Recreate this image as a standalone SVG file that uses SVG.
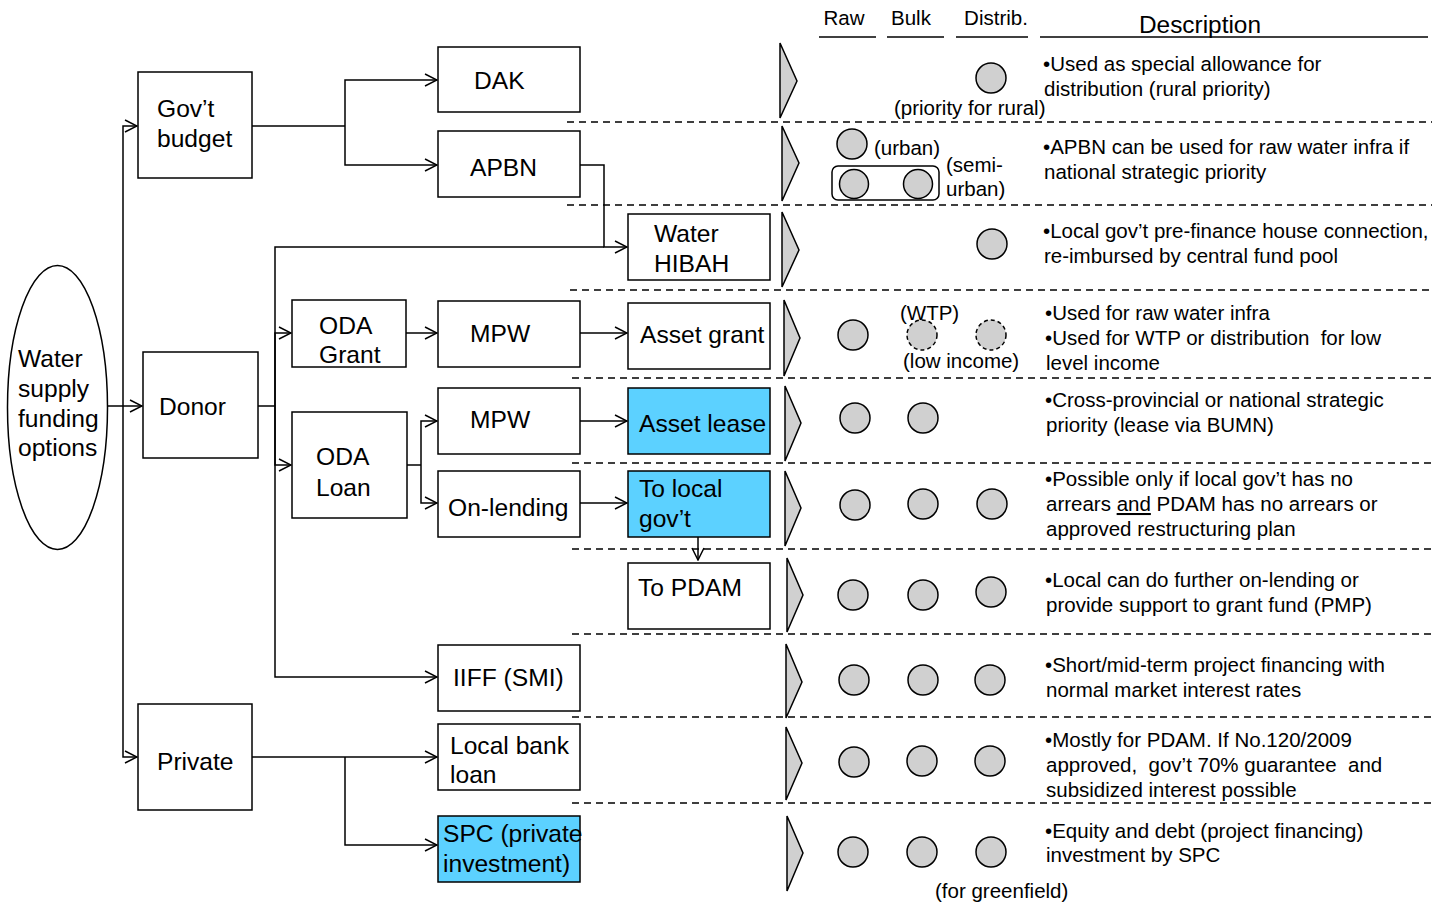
<svg xmlns="http://www.w3.org/2000/svg" width="1448" height="903" viewBox="0 0 1448 903">
  <style>
    text { font-family: "Liberation Sans", Arial, sans-serif; fill: #000; }
    .lbl { font-size: 24.6px; }
    .hdr { font-size: 20.5px; }
    .desc { font-size: 20.5px; white-space: pre; }
    .note { font-size: 20.5px; }
    .box { fill: #fff; stroke: #000; stroke-width: 1.5; }
    .blue { fill: #5CD1FF; stroke: #000; stroke-width: 1.5; }
    .conn { fill: none; stroke: #000; stroke-width: 1.5; }
    .sep { stroke: #000; stroke-width: 1.5; stroke-dasharray: 7 5; }
    .rule { stroke: #000; stroke-width: 1.5; }
    .chev { fill: #D0D0D0; stroke: #000; stroke-width: 1.5; }
    .dot { fill: #D0D0D0; stroke: #000; stroke-width: 1.5; }
    .dot-d { fill: #D0D0D0; stroke: #000; stroke-width: 1.5; stroke-dasharray: 4 3; }
  </style>
  <defs>
    <marker id="open" viewBox="0 0 14 14" refX="13" refY="7" markerWidth="14" markerHeight="14" markerUnits="userSpaceOnUse" orient="auto">
      <path d="M1,1 L13,7 L1,13" fill="none" stroke="#000" stroke-width="1.5"/>
    </marker>
  </defs>

  <!-- column headers -->
  <g id="header">
    <text class="hdr" x="844" y="25" text-anchor="middle">Raw</text>
    <text class="hdr" x="911" y="25" text-anchor="middle">Bulk</text>
    <text class="hdr" x="996" y="25" text-anchor="middle">Distrib.</text>
    <text x="1200" y="33" text-anchor="middle" style="font-size:24.4px">Description</text>
    <line class="rule" x1="819" y1="37" x2="876" y2="37"/>
    <line class="rule" x1="887" y1="37" x2="944" y2="37"/>
    <line class="rule" x1="956" y1="37" x2="1028" y2="37"/>
    <line class="rule" x1="1040" y1="37" x2="1428" y2="37"/>
  </g>

  <!-- row separators -->
  <g id="separators">
    <line class="sep" x1="567" y1="122" x2="1432" y2="122"/>
    <line class="sep" x1="567" y1="205" x2="1432" y2="205"/>
    <line class="sep" x1="570" y1="290" x2="1432" y2="290"/>
    <line class="sep" x1="572" y1="378" x2="1432" y2="378"/>
    <line class="sep" x1="572" y1="463" x2="1432" y2="463"/>
    <line class="sep" x1="572" y1="549" x2="1432" y2="549"/>
    <line class="sep" x1="572" y1="634" x2="1432" y2="634"/>
    <line class="sep" x1="572" y1="717" x2="1432" y2="717"/>
    <line class="sep" x1="572" y1="803" x2="1432" y2="803"/>
  </g>

  <!-- connectors -->
  <g id="connectors">
    <path class="conn" d="M123,406 V126 H137" marker-end="url(#open)"/>
    <path class="conn" d="M123,406 V757 H137" marker-end="url(#open)"/>
    <path class="conn" d="M108,406 H142" stroke-width="2.5" marker-end="url(#open)"/>

    <path class="conn" d="M252,126 H345"/>
    <path class="conn" d="M345,126 V80 H437" marker-end="url(#open)"/>
    <path class="conn" d="M345,126 V165 H437" marker-end="url(#open)"/>
    <path class="conn" d="M580,165 H604 V247 H627" marker-end="url(#open)"/>

    <path class="conn" d="M258,406 H275"/>
    <path class="conn" d="M275,406 V247 H604"/>
    <path class="conn" d="M275,406 V333 H291" marker-end="url(#open)"/>
    <path class="conn" d="M275,406 V465 H291" marker-end="url(#open)"/>
    <path class="conn" d="M275,406 V677 H437" marker-end="url(#open)"/>

    <path class="conn" d="M406,333 H437" marker-end="url(#open)"/>
    <path class="conn" d="M580,333 H627" marker-end="url(#open)"/>

    <path class="conn" d="M407,465 H421"/>
    <path class="conn" d="M421,465 V421 H437" marker-end="url(#open)"/>
    <path class="conn" d="M421,465 V503 H437" marker-end="url(#open)"/>
    <path class="conn" d="M580,421 H627" marker-end="url(#open)"/>
    <path class="conn" d="M580,503 H627" marker-end="url(#open)"/>
    <path class="conn" d="M698,537 V560" marker-end="url(#open)"/>

    <path class="conn" d="M252,757 H345"/>
    <path class="conn" d="M345,757 H437" marker-end="url(#open)"/>
    <path class="conn" d="M345,757 V845 H437" marker-end="url(#open)"/>
  </g>

  <!-- source -->
  <g id="node-source">
    <ellipse cx="57.5" cy="407.5" rx="50" ry="142" fill="#fff" stroke="#000" stroke-width="1.5"/>
    <text class="lbl" x="18" y="367">Water</text>
    <text class="lbl" x="18" y="397">supply</text>
    <text class="lbl" x="18" y="427">funding</text>
    <text class="lbl" x="18" y="456">options</text>
  </g>

  <!-- first level -->
  <g id="node-govbudget">
    <rect class="box" x="138" y="72" width="114" height="106"/>
    <text class="lbl" x="157" y="117">Gov’t</text>
    <text class="lbl" x="157" y="147">budget</text>
  </g>
  <g id="node-donor">
    <rect class="box" x="143" y="352" width="115" height="106"/>
    <text class="lbl" x="159" y="415">Donor</text>
  </g>
  <g id="node-private">
    <rect class="box" x="138" y="704" width="114" height="106"/>
    <text class="lbl" x="157" y="770">Private</text>
  </g>

  <!-- second level -->
  <g id="node-dak">
    <rect class="box" x="438" y="47" width="142" height="65"/>
    <text class="lbl" x="474" y="89">DAK</text>
  </g>
  <g id="node-apbn">
    <rect class="box" x="438" y="131" width="142" height="66"/>
    <text class="lbl" x="470" y="176">APBN</text>
  </g>
  <g id="node-odagrant">
    <rect class="box" x="292" y="300" width="114" height="67"/>
    <text class="lbl" x="319" y="334">ODA</text>
    <text class="lbl" x="319" y="363">Grant</text>
  </g>
  <g id="node-odaloan">
    <rect class="box" x="292" y="412" width="115" height="106"/>
    <text class="lbl" x="316" y="465">ODA</text>
    <text class="lbl" x="316" y="496">Loan</text>
  </g>
  <g id="node-mpw-grant">
    <rect class="box" x="438" y="301" width="142" height="66"/>
    <text class="lbl" x="470" y="342">MPW</text>
  </g>
  <g id="node-mpw-loan">
    <rect class="box" x="438" y="388" width="142" height="66"/>
    <text class="lbl" x="470" y="428">MPW</text>
  </g>
  <g id="node-onlending">
    <rect class="box" x="438" y="471" width="142" height="66"/>
    <text class="lbl" x="448" y="516">On-lending</text>
  </g>
  <g id="node-iiff">
    <rect class="box" x="438" y="645" width="142" height="66"/>
    <text class="lbl" x="453" y="686">IIFF (SMI)</text>
  </g>
  <g id="node-localbank">
    <rect class="box" x="438" y="724" width="142" height="66"/>
    <text class="lbl" x="450" y="754">Local bank</text>
    <text class="lbl" x="450" y="783">loan</text>
  </g>
  <g id="node-spc">
    <rect class="blue" x="438" y="816" width="142" height="66"/>
    <text class="lbl" x="443" y="842">SPC (private</text>
    <text class="lbl" x="443" y="872">investment)</text>
  </g>

  <!-- third level -->
  <g id="node-hibah">
    <rect class="box" x="628" y="214" width="142" height="66"/>
    <text class="lbl" x="654" y="242">Water</text>
    <text class="lbl" x="654" y="272">HIBAH</text>
  </g>
  <g id="node-assetgrant">
    <rect class="box" x="628" y="303" width="142" height="66"/>
    <text class="lbl" x="640" y="343">Asset grant</text>
  </g>
  <g id="node-assetlease">
    <rect class="blue" x="628" y="388" width="142" height="66"/>
    <text class="lbl" x="639" y="432">Asset lease</text>
  </g>
  <g id="node-localgov">
    <rect class="blue" x="628" y="471" width="142" height="66"/>
    <text class="lbl" x="639" y="497">To local</text>
    <text class="lbl" x="639" y="527">gov’t</text>
  </g>
  <g id="node-pdam">
    <rect class="box" x="628" y="563" width="142" height="66"/>
    <text class="lbl" x="638" y="596">To PDAM</text>
  </g>

  <!-- row chevrons -->
  <g id="chevrons">
    <polygon class="chev" points="780,43 797,81 780,118"/>
    <polygon class="chev" points="782,126 799,163 782,201"/>
    <polygon class="chev" points="782,212 799,250 782,287"/>
    <polygon class="chev" points="784,300 800,338 784,376"/>
    <polygon class="chev" points="785,386 801,423 785,461"/>
    <polygon class="chev" points="785,471 801,508 785,546"/>
    <polygon class="chev" points="787,558 803,595 787,632"/>
    <polygon class="chev" points="786,644 802,682 786,718"/>
    <polygon class="chev" points="786,727 802,763 786,800"/>
    <polygon class="chev" points="787,816 803,853 787,891"/>
  </g>

  <!-- applicability markers: raw / bulk / distribution -->
  <g id="markers">
    <circle class="dot" cx="991" cy="78" r="15"/>

    <circle class="dot" cx="852" cy="144" r="15"/>
    <rect x="832" y="166" width="107" height="34" rx="6" fill="none" stroke="#000" stroke-width="1.5"/>
    <circle class="dot" cx="854" cy="184" r="14.5"/>
    <circle class="dot" cx="918" cy="184" r="14.5"/>

    <circle class="dot" cx="992" cy="244" r="15"/>

    <circle class="dot" cx="853" cy="335" r="15"/>
    <circle class="dot-d" cx="922" cy="335" r="15"/>
    <circle class="dot-d" cx="991" cy="335" r="15"/>

    <circle class="dot" cx="855" cy="418" r="15"/>
    <circle class="dot" cx="923" cy="418" r="15"/>

    <circle class="dot" cx="855" cy="505" r="15"/>
    <circle class="dot" cx="923" cy="504" r="15"/>
    <circle class="dot" cx="992" cy="504" r="15"/>

    <circle class="dot" cx="853" cy="595" r="15"/>
    <circle class="dot" cx="923" cy="595" r="15"/>
    <circle class="dot" cx="991" cy="592" r="15"/>

    <circle class="dot" cx="854" cy="680" r="15"/>
    <circle class="dot" cx="923" cy="680" r="15"/>
    <circle class="dot" cx="990" cy="680" r="15"/>

    <circle class="dot" cx="854" cy="762" r="15"/>
    <circle class="dot" cx="922" cy="761" r="15"/>
    <circle class="dot" cx="990" cy="761" r="15"/>

    <circle class="dot" cx="853" cy="852" r="15"/>
    <circle class="dot" cx="922" cy="852" r="15"/>
    <circle class="dot" cx="991" cy="852" r="15"/>
  </g>

  <!-- marker notes -->
  <g id="notes">
    <text class="note" x="894" y="115">(priority for rural)</text>
    <text class="note" x="874" y="155">(urban)</text>
    <text class="note" x="946" y="172">(semi-</text>
    <text class="note" x="946" y="196">urban)</text>
    <text class="note" x="900" y="320">(WTP)</text>
    <text class="note" x="903" y="368">(low income)</text>
    <text class="note" x="935" y="898">(for greenfield)</text>
  </g>

  <!-- descriptions -->
  <g id="descriptions">
    <text class="desc" x="1043" y="71">•Used as special allowance for</text>
    <text class="desc" x="1044" y="96">distribution (rural priority)</text>

    <text class="desc" x="1043" y="154">•APBN can be used for raw water infra if</text>
    <text class="desc" x="1044" y="179">national strategic priority</text>

    <text class="desc" x="1043" y="238">•Local gov’t pre-finance house connection,</text>
    <text class="desc" x="1044" y="263">re-imbursed by central fund pool</text>

    <text class="desc" x="1045" y="320">•Used for raw water infra</text>
    <text class="desc" x="1045" y="345">•Used for WTP or distribution  for low</text>
    <text class="desc" x="1046" y="370">level income</text>

    <text class="desc" x="1045" y="407">•Cross-provincial or national strategic</text>
    <text class="desc" x="1046" y="432">priority (lease via BUMN)</text>

    <text class="desc" x="1045" y="486">•Possible only if local gov’t has no</text>
    <text class="desc" x="1046" y="511">arrears <tspan text-decoration="underline">and</tspan> PDAM has no arrears or</text>
    <text class="desc" x="1046" y="536">approved restructuring plan</text>

    <text class="desc" x="1045" y="587">•Local can do further on-lending or</text>
    <text class="desc" x="1046" y="612">provide support to grant fund (PMP)</text>

    <text class="desc" x="1045" y="672">•Short/mid-term project financing with</text>
    <text class="desc" x="1046" y="697">normal market interest rates</text>

    <text class="desc" x="1045" y="747">•Mostly for PDAM. If No.120/2009</text>
    <text class="desc" x="1046" y="772">approved,  gov’t 70% guarantee  and</text>
    <text class="desc" x="1046" y="797">subsidized interest possible</text>

    <text class="desc" x="1045" y="838">•Equity and debt (project financing)</text>
    <text class="desc" x="1046" y="862">investment by SPC</text>
  </g>
</svg>
